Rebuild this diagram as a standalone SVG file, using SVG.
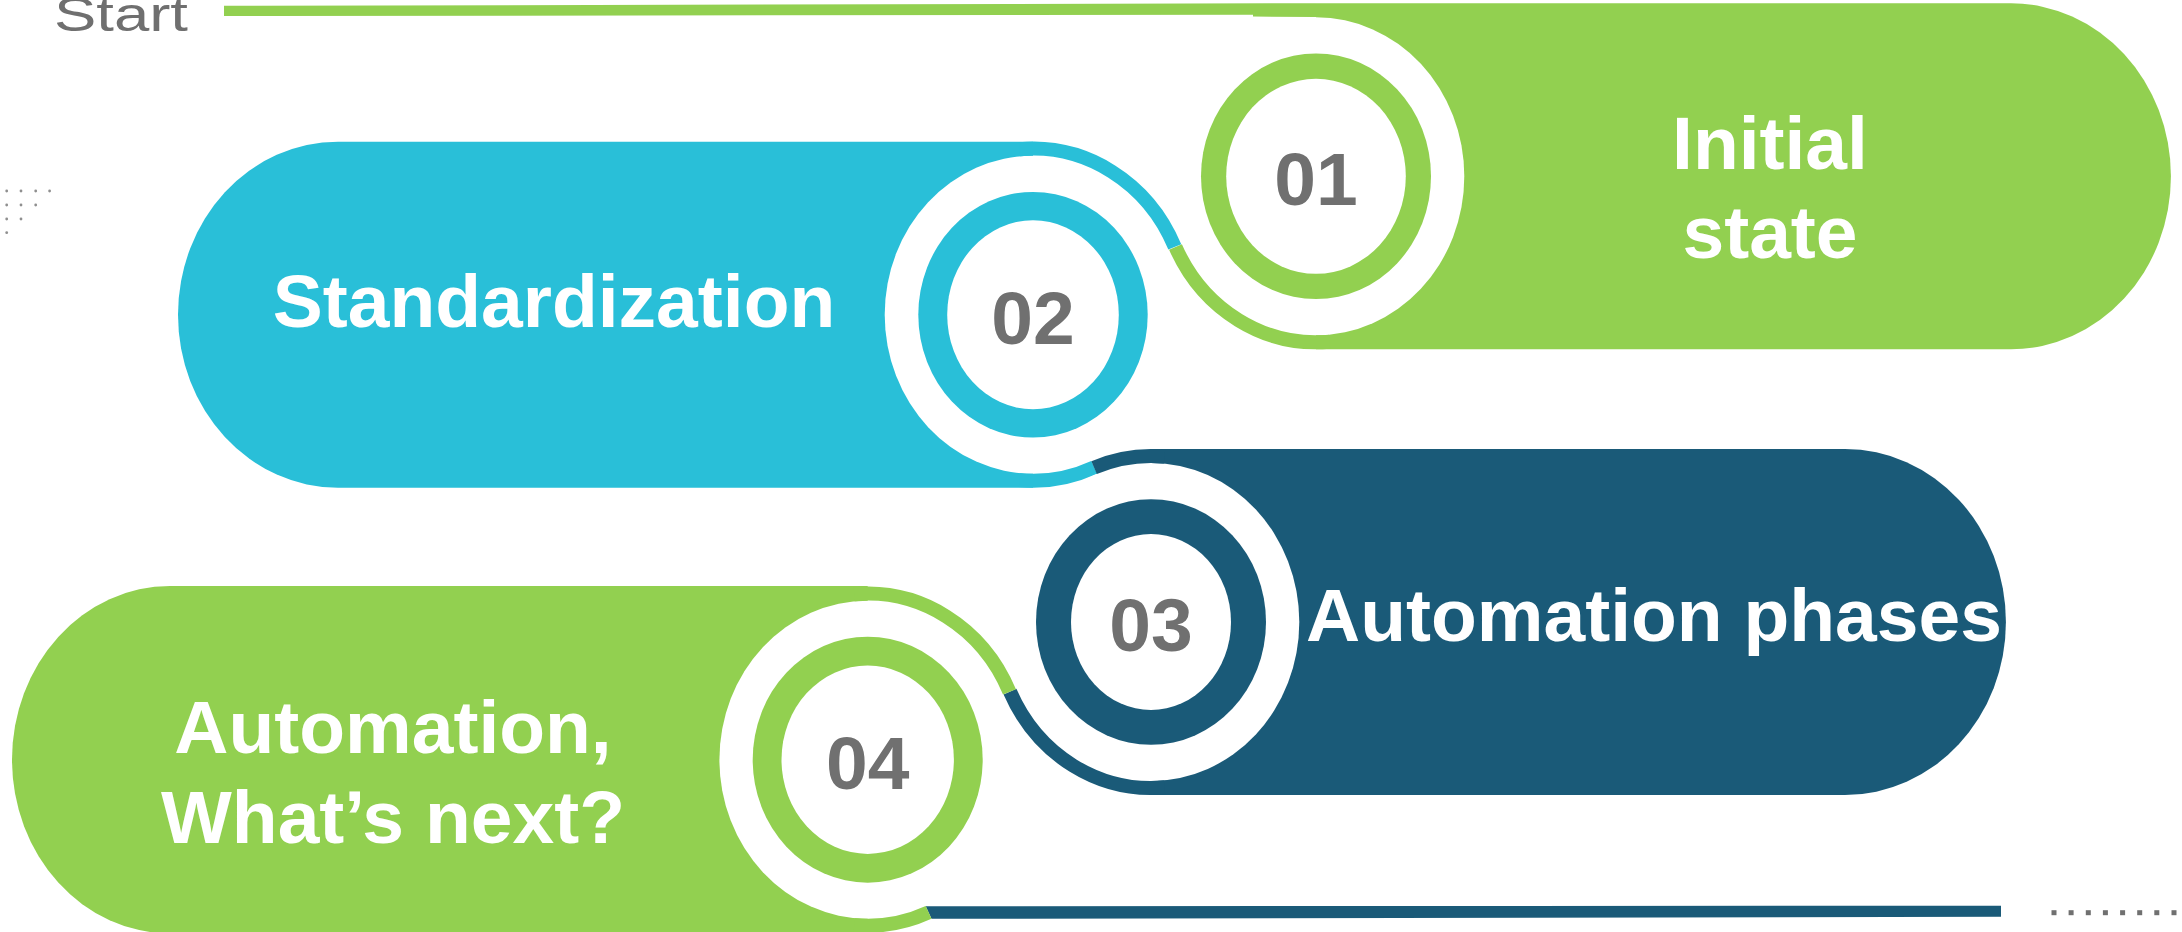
<svg xmlns="http://www.w3.org/2000/svg" width="2182" height="932" viewBox="0 0 2182 932">
<style>
.green{fill:#92D050}
.cyan{fill:#29BFD8}
.navy{fill:#1A5A78}
.white{fill:#FFFFFF}
.sg{fill:none;stroke:#92D050;stroke-width:14}
.sc{fill:none;stroke:#29BFD8;stroke-width:14}
.sn{fill:none;stroke:#1A5A78;stroke-width:14}
.num{font-family:"Liberation Sans",Arial,sans-serif;font-weight:bold;font-size:75px;fill:#707070;text-anchor:middle}
.lbl{font-family:"Liberation Sans",Arial,sans-serif;font-weight:bold;font-size:75px;fill:#FFFFFF}
.mid{text-anchor:middle}
.dot{fill:#8F8F8F}
.sq{fill:#707070}
</style>
<rect x="0" y="0" width="2182" height="932" fill="#FFFFFF"/>

<g id="start-label">
<text x="54" y="31" font-family="Liberation Sans, Arial, sans-serif" font-size="48" fill="#6F6F6F" textLength="134" lengthAdjust="spacingAndGlyphs">Start</text>
</g>

<g id="decor-dots">
<circle class="dot" cx="6.7" cy="191" r="1.4"/><circle class="dot" cx="21" cy="191" r="1.4"/><circle class="dot" cx="35.7" cy="191" r="1.4"/><circle class="dot" cx="49.6" cy="191" r="1.4"/>
<circle class="dot" cx="6.7" cy="205" r="1.4"/><circle class="dot" cx="21" cy="205" r="1.4"/><circle class="dot" cx="35.7" cy="205" r="1.4"/>
<circle class="dot" cx="6.7" cy="219" r="1.4"/><circle class="dot" cx="21" cy="219" r="1.4"/>
<circle class="dot" cx="6.7" cy="232.7" r="1.4"/>
<rect class="sq" x="2051.5" y="910.2" width="5" height="5"/><rect class="sq" x="2068.6" y="910.2" width="5" height="5"/><rect class="sq" x="2085.8" y="910.2" width="5" height="5"/><rect class="sq" x="2102.9" y="910.2" width="5" height="5"/><rect class="sq" x="2120.1" y="910.2" width="5" height="5"/><rect class="sq" x="2137.2" y="910.2" width="5" height="5"/><rect class="sq" x="2154.3" y="910.2" width="5" height="5"/><rect class="sq" x="2171.5" y="910.2" width="5" height="5"/>
</g>

<g id="connectors">
<path class="green" d="M224,5.8 L1300,3.3 L1316,3.3 L1316,17 L1253,16.5 L1253,14.7 L224,16 Z"/>
<path class="navy" d="M925.7,906.2 L2001,905.7 L2001,916.7 L931.5,918.8 Z"/>
</g>

<g id="step-01">
<path class="green" d="M1316,3.3 H2011 A160,173 0 0 1 2011,349.3 H1316 Z"/>
<ellipse class="white" cx="1316" cy="176.3" rx="148.3" ry="159"/>
<path class="sg" d="M1329.5,341.7 A155.3,166 0 0 1 1175.5,247"/>
<ellipse class="green" cx="1316" cy="176.3" rx="115" ry="122.8"/>
<ellipse class="white" cx="1316" cy="176.3" rx="89.8" ry="97.5"/>
<text class="num" x="1316" y="205">01</text>
<text class="lbl mid" x="1770" y="169"><tspan x="1770" y="169">Initial</tspan><tspan x="1770" y="258.3">state</tspan></text>
</g>

<g id="step-02">
<path class="cyan" d="M1033,141.7 H338 A160,173 0 0 0 338,487.7 H1033 Z"/>
<ellipse class="white" cx="1033" cy="314.7" rx="148.3" ry="159"/>
<path class="sc" d="M1019.5,149.3 A155.3,166 0 0 1 1174.8,246.9"/>
<path class="sc" d="M1094.2,467.3 A155.3,166 0 0 1 1019.5,480.1"/>
<ellipse class="cyan" cx="1033" cy="314.7" rx="114.7" ry="122.8"/>
<ellipse class="white" cx="1033" cy="314.7" rx="85.8" ry="94.5"/>
<text class="num" x="1033" y="343.5">02</text>
<text class="lbl mid" x="554" y="326.7">Standardization</text>
</g>

<g id="step-03">
<path class="navy" d="M1151,449 H1845 A161,173 0 0 1 1845,795 H1151 Z"/>
<ellipse class="white" cx="1151" cy="622" rx="148.3" ry="159"/>
<path class="sn" d="M1094.1,467.6 A155.3,166 0 0 1 1164.5,456.6"/>
<path class="sn" d="M1164.5,787.4 A155.3,166 0 0 1 1010,691.6"/>
<ellipse class="navy" cx="1151" cy="622" rx="115" ry="122.8"/>
<ellipse class="white" cx="1151" cy="622" rx="80" ry="88"/>
<text class="num" x="1151" y="651">03</text>
<text class="lbl" x="1306" y="640.7">Automation phases</text>
</g>

<g id="step-04">
<path class="green" d="M867.7,586 H170 A158,173.7 0 0 0 170,933.4 H867.7 Z"/>
<ellipse class="white" cx="867.7" cy="759.7" rx="148.3" ry="159"/>
<path class="sg" d="M854.2,594.3 A155.3,166 0 0 1 1009.5,691.9"/>
<path class="sg" d="M928.6,912.4 A155.3,166 0 0 1 854.2,925.1"/>
<ellipse class="green" cx="867.7" cy="759.7" rx="115" ry="123"/>
<ellipse class="white" cx="867.7" cy="759.7" rx="86.2" ry="94.2"/>
<text class="num" x="867.7" y="788.7">04</text>
<text class="lbl mid" x="393" y="753.3"><tspan x="393" y="753.3">Automation,</tspan><tspan x="393" y="843.3">What’s next?</tspan></text>
</g>
</svg>
